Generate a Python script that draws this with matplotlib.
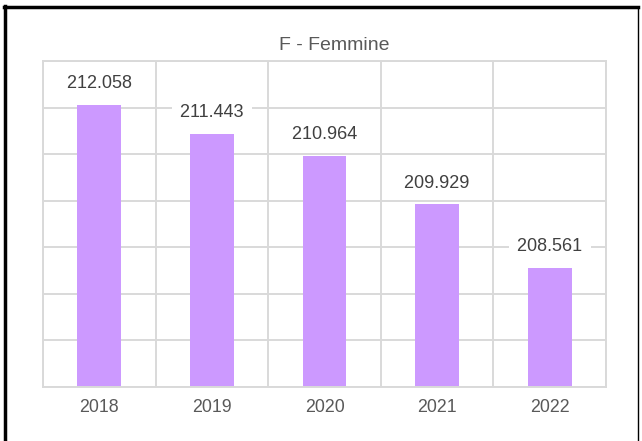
import numpy as np
import matplotlib.pyplot as plt
from matplotlib.lines import Line2D

plt.rcParams['font.family'] = ['Liberation Sans', 'DejaVu Sans']

years = ["2018", "2019", "2020", "2021", "2022"]
femmine = [212.058, 211.443, 210.964, 209.929, 208.561]
labels = ["212.058", "211.443", "210.964", "209.929", "208.561"]

BAR = "#CC99FF"
GRID = "#D9D9D9"

fig = plt.figure(figsize=(6.42, 4.41), dpi=100)
ax = fig.add_axes([43 / 642, 1 - 387 / 441, 563 / 642, 326 / 441])

x = np.arange(len(years))
ax.bar(x, femmine, width=0.39, color=BAR, zorder=2)

ax.set_xlim(-0.5, len(years) - 0.5)
ax.set_ylim(206, 213)
ax.set_yticks(np.arange(206, 214, 1))
ax.set_yticklabels([])
ax.set_xticks(x, labels=years)
ax.set_xticks(np.arange(-0.5, len(years), 1), minor=True)
ax.tick_params(axis="both", which="both", length=0)
ax.tick_params(axis="x", pad=9, labelsize=12.8, labelcolor="#595959")
ax.grid(axis="y", which="major", color=GRID, linewidth=1.4, zorder=0)
ax.grid(axis="x", which="minor", color=GRID, linewidth=1.4, zorder=0)
for s in ax.spines.values():
    s.set_color(GRID)
    s.set_linewidth(1.4)

# value labels sit on a white box that cuts the gridlines
for xi, v, t in zip(x, femmine, labels):
    ax.annotate(" " + t + " ", (xi, v), xytext=(0, 21), textcoords="offset pixels",
                ha="center", va="center", fontsize=13, color="#404040",
                bbox=dict(boxstyle="square,pad=0.2", fc="white", ec="none"),
                zorder=3)

fig.text(334.5 / 642, 1 - 45 / 441, "F - Femmine", ha="center", va="center",
         fontsize=14, color="#595959")

# outer frame: thick top/left, thin right, open bottom
W, H = 642, 441
fig.add_artist(Line2D([5 / W, 5 / W], [0, 1 - 6 / H], color="black", lw=2.5,
                      transform=fig.transFigure))
fig.add_artist(Line2D([4 / W, 638 / W], [1 - 7 / H, 1 - 7 / H], color="black",
                      lw=2.5, transform=fig.transFigure))
fig.add_artist(Line2D([638 / W, 638 / W], [0, 1 - 7 / H], color="black",
                      lw=1.0, transform=fig.transFigure))

fig.savefig("out.png", dpi=100)
